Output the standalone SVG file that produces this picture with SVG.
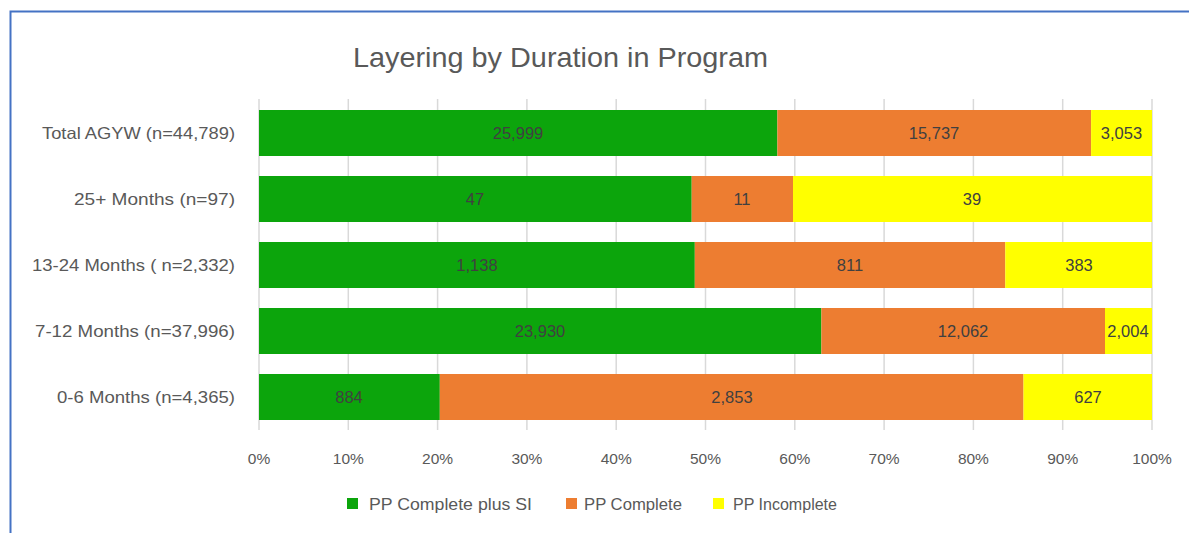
<svg xmlns="http://www.w3.org/2000/svg" width="1189" height="533" viewBox="0 0 1189 533">
<style>
.t{font-family:"Liberation Sans","Open Sans",sans-serif;fill:#595959}
.ylab{font-size:16.5px;text-anchor:end}
.xlab{font-size:15.5px;text-anchor:middle}
.val{font-family:"Liberation Sans",sans-serif;font-size:16.5px;fill:#404040;text-anchor:middle}
.g{fill:#0CA50C}.o{fill:#ED7D31}.y{fill:#FFFF00}
.grid{stroke:#D9D9D9;stroke-width:1.5}
</style>
<rect x="0" y="0" width="1189" height="533" fill="#fff"/>
<path d="M10.5 533 V11.5 H1189" fill="none" stroke="#4472C4" stroke-width="2"/>
<text class="t" x="353" y="67" font-size="28" textLength="415" lengthAdjust="spacingAndGlyphs">Layering by Duration in Program</text>
<g id="grid">
<path class="grid" d="M259 99V430M348.3 99V430M437.6 99V430M526.9 99V430M616.2 99V430M705.5 99V430M794.8 99V430M884.1 99V430M973.4 99V430M1062.7 99V430M1152 99V430"/>
</g>
<g id="xaxis" class="t xlab">
<text x="259" y="464">0%</text><text x="348.3" y="464">10%</text><text x="437.6" y="464">20%</text><text x="526.9" y="464">30%</text><text x="616.2" y="464">40%</text><text x="705.5" y="464">50%</text><text x="794.8" y="464">60%</text><text x="884.1" y="464">70%</text><text x="973.4" y="464">80%</text><text x="1062.7" y="464">90%</text><text x="1152" y="464">100%</text>
</g>
<g id="bar-total">
<text class="t ylab" x="235" y="139" textLength="193" lengthAdjust="spacingAndGlyphs">Total AGYW (n=44,789)</text>
<rect class="g" x="259" y="110" width="518.4" height="46"/>
<rect class="o" x="777.4" y="110" width="313.7" height="46"/>
<rect class="y" x="1091.1" y="110" width="60.9" height="46"/>
<text class="val" x="518" y="139">25,999</text>
<text class="val" x="934" y="139">15,737</text>
<text class="val" x="1121.5" y="139">3,053</text>
</g>
<g id="bar-25">
<text class="t ylab" x="235" y="205" textLength="161" lengthAdjust="spacingAndGlyphs">25+ Months  (n=97)</text>
<rect class="g" x="259" y="176" width="432.7" height="46"/>
<rect class="o" x="691.7" y="176" width="101.3" height="46"/>
<rect class="y" x="793" y="176" width="359" height="46"/>
<text class="val" x="475" y="205">47</text>
<text class="val" x="742" y="205">11</text>
<text class="val" x="972" y="205">39</text>
</g>
<g id="bar-13-24">
<text class="t ylab" x="235" y="271" textLength="203" lengthAdjust="spacingAndGlyphs">13-24 Months ( n=2,332)</text>
<rect class="g" x="259" y="242" width="435.8" height="46"/>
<rect class="o" x="694.8" y="242" width="310.5" height="46"/>
<rect class="y" x="1005.3" y="242" width="146.7" height="46"/>
<text class="val" x="477" y="271">1,138</text>
<text class="val" x="850" y="271">811</text>
<text class="val" x="1079" y="271">383</text>
</g>
<g id="bar-7-12">
<text class="t ylab" x="235" y="337" textLength="200" lengthAdjust="spacingAndGlyphs">7-12 Months (n=37,996)</text>
<rect class="g" x="259" y="308" width="562.4" height="46"/>
<rect class="o" x="821.4" y="308" width="283.6" height="46"/>
<rect class="y" x="1105" y="308" width="47" height="46"/>
<text class="val" x="540" y="337">23,930</text>
<text class="val" x="963" y="337">12,062</text>
<text class="val" x="1128" y="337">2,004</text>
</g>
<g id="bar-0-6">
<text class="t ylab" x="235" y="403" textLength="178" lengthAdjust="spacingAndGlyphs">0-6 Months (n=4,365)</text>
<rect class="g" x="259" y="374" width="180.8" height="46"/>
<rect class="o" x="439.8" y="374" width="583.7" height="46"/>
<rect class="y" x="1023.5" y="374" width="128.5" height="46"/>
<text class="val" x="349" y="403">884</text>
<text class="val" x="732" y="403">2,853</text>
<text class="val" x="1088" y="403">627</text>
</g>
<g id="legend" class="t" font-size="16.5">
<rect class="g" x="347" y="498" width="11" height="11"/>
<text x="369" y="510" textLength="163" lengthAdjust="spacingAndGlyphs">PP Complete plus SI</text>
<rect class="o" x="566" y="498" width="11" height="11"/>
<text x="584" y="510" textLength="98" lengthAdjust="spacingAndGlyphs">PP Complete</text>
<rect class="y" x="713" y="498" width="11" height="11"/>
<text x="733" y="510" textLength="104" lengthAdjust="spacingAndGlyphs">PP Incomplete</text>
</g>
</svg>
